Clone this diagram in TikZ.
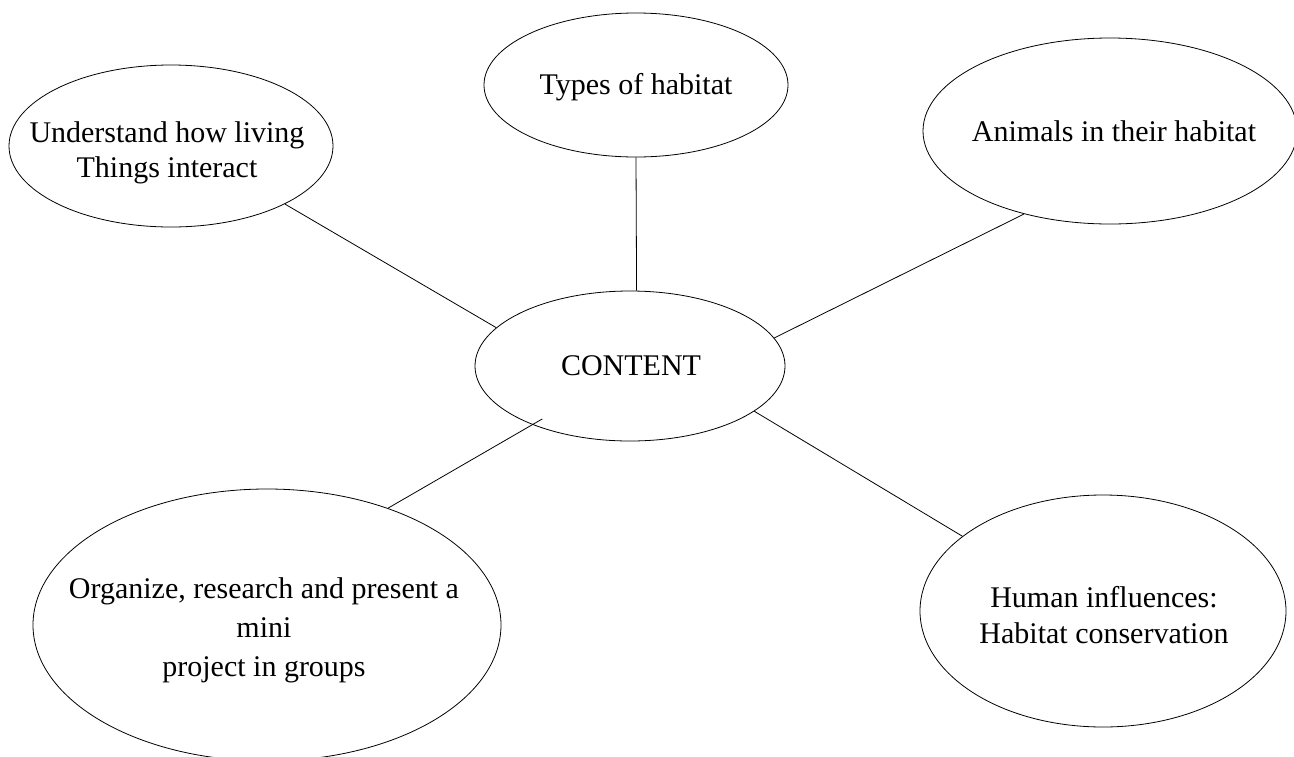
\documentclass[tikz,border=0pt]{standalone}
\usepackage{fontspec}
\setmainfont{Liberation Serif}
\usetikzlibrary{shapes.geometric}
\begin{document}
\begin{tikzpicture}[x=1pt,y=-1pt,
  bubble/.style={draw, ellipse, inner sep=0pt, line width=0.8pt},
  caption/.style={align=center, inner sep=0pt, font=\fontsize{30}{35}\selectfont},
  link/.style={draw, line width=0.8pt}]
\useasboundingbox (0,0) rectangle (1294,756);

% outline ellipses
\node[bubble, minimum width=324pt, minimum height=162pt] (under)   at (171,146)  {};
\node[bubble, minimum width=304pt, minimum height=144pt] (types)   at (636,85)   {};
\node[bubble, minimum width=374pt, minimum height=186pt] (animals) at (1110,131) {};
\node[bubble, minimum width=310pt, minimum height=150pt] (content) at (630,366)  {};
\node[bubble, minimum width=468pt, minimum height=272pt] (org)     at (267,625)  {};
\node[bubble, minimum width=366pt, minimum height=232pt] (human)   at (1103,611) {};

% captions
\node[caption] (undertxt)   at (167,153)  {Understand how living\\Things interact};
\node[caption] (typestxt)   at (636,87)   {Types of habitat};
\node[caption] (animalstxt) at (1114,131) {Animals in their habitat};
\node[caption] (contenttxt) at (631,366)  {CONTENT};
\node[caption, font=\fontsize{30}{39}\selectfont] (orgtxt) at (264,630)
  {Organize, research and present a\\mini\\project in groups};
\node[caption, font=\fontsize{30}{36}\selectfont] (humantxt) at (1104,615)
  {Human influences:\\Habitat conservation};

% spokes from the centre
\path[link] (under.-27.2) -- (content.164.5);
\path[link] (types.south) -- (content.85.4);
\path[link] (animals.224.7) -- (content.11.5);
\path[link, shorten <=-11.5pt] (content.211.1) -- (org.44.8);
\path[link] (content.-20.8) -- (human.152.6);
\end{tikzpicture}
\end{document}
